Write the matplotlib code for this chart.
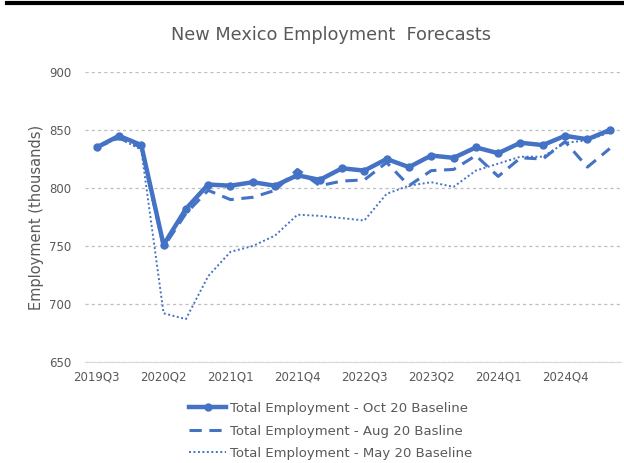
import matplotlib
matplotlib.use("Agg")
import matplotlib.pyplot as plt
from matplotlib.lines import Line2D

# quarters 2019Q3 .. 2025Q2
quarters = []
for y in range(2019, 2026):
    for q in range(1, 5):
        if (y, q) >= (2019, 3) and (y, q) <= (2025, 2):
            quarters.append(f"{y}Q{q}")

oct20 = [835, 845, 837, 751, 782, 803, 802, 805, 802, 811, 807, 817,
         815, 825, 818, 828, 826, 835, 830, 839, 837, 845, 842, 850]
aug20 = [835, 843, 835, 749, 778, 798, 790, 792, 798, 816, 802, 806,
         807, 822, 802, 815, 816, 828, 810, 826, 825, 840, 818, 834]
may20 = [835, 843, 833, 692, 687, 724, 745, 750, 759, 777, 776, 774,
         772, 795, 802, 805, 801, 815, 821, 827, 827, 839, 841, 848]

blue = "#4472C4"
grey = "#595959"

fig = plt.figure(figsize=(6.24, 4.63), dpi=100)
ax = fig.add_axes([0.137, 0.2181, 0.858, 0.6264])

x = list(range(len(quarters)))
ax.plot(x, oct20, color=blue, lw=3.2, marker="o", ms=5,
        label="Total Employment - Oct 20 Baseline", zorder=3)
ax.plot(x, aug20, color=blue, lw=2.2, ls=(0, (4, 2.5)),
        label="Total Employment - Aug 20 Basline", zorder=2)
ax.plot(x, may20, color=blue, lw=1.4, ls=(0, (1, 1.3)),
        label="Total Employment - May 20 Baseline", zorder=2)

ax.set_xlim(-0.5, len(quarters) - 0.5)
ax.set_ylim(650, 900)
ax.set_yticks([650, 700, 750, 800, 850, 900])
ax.set_xticks(x[::3])
ax.set_xticklabels(quarters[::3])
ax.grid(axis="y", color="#BFBFBF", ls=(0, (2.5, 2.5)), lw=0.9)
ax.set_axisbelow(True)
for s in ["top", "right", "left"]:
    ax.spines[s].set_visible(False)
ax.spines["bottom"].set_color("#D9D9D9")
ax.tick_params(length=0, labelsize=8.5, colors=grey, pad=6)
ax.tick_params(axis="y", pad=10)

ax.set_ylabel("Employment (thousands)", fontsize=10.5, color=grey, labelpad=4)
fig.text(0.53, 0.925, "New Mexico Employment  Forecasts", ha="center",
         va="center", fontsize=12.8, color=grey)

leg = fig.legend(loc="center", bbox_to_anchor=(0.53, 0.069), frameon=False,
                 fontsize=9.5, handlelength=2.8, handletextpad=0.3,
                 labelspacing=0.72)
for t in leg.get_texts():
    t.set_color(grey)

# thick black border at top
fig.add_artist(Line2D([0.012, 1.0], [0.993, 0.993], color="black", lw=3,
                      transform=fig.transFigure))

fig.savefig("out.png", dpi=100)
